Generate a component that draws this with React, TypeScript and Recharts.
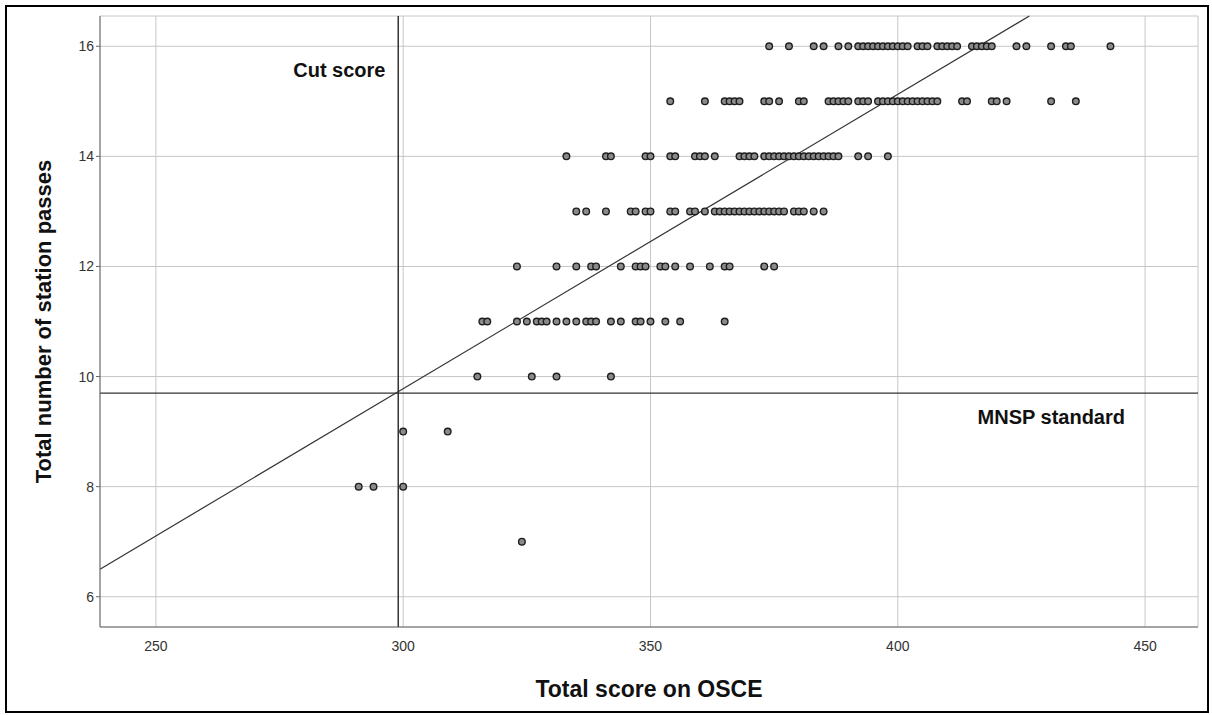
import { ScatterChart, Scatter, XAxis, YAxis, CartesianGrid, ReferenceLine } from 'recharts'

// OSCE total score of each candidate, grouped by number of stations passed
const passes16 = [374, 378, 383, 385, 388, 390, 392, 393, 394, 395, 396, 397, 398, 399, 400, 401, 402, 404, 405, 406, 408, 409, 410, 411, 412, 415, 416, 417, 418, 419, 424, 426, 431, 434, 435, 443]
const passes15 = [354, 361, 365, 366, 367, 368, 373, 374, 376, 380, 381, 386, 387, 388, 389, 390, 392, 393, 394, 396, 397, 398, 399, 400, 401, 402, 403, 404, 405, 406, 407, 408, 413, 414, 419, 420, 422, 431, 436]
const passes14 = [333, 341, 342, 349, 350, 354, 355, 359, 360, 361, 363, 368, 369, 370, 371, 373, 374, 375, 376, 377, 378, 379, 380, 381, 382, 383, 384, 385, 386, 387, 388, 392, 394, 398]
const passes13 = [335, 337, 341, 346, 347, 349, 350, 354, 355, 358, 359, 361, 363, 364, 365, 366, 367, 368, 369, 370, 371, 372, 373, 374, 375, 376, 377, 379, 380, 381, 383, 385]
const passes12 = [323, 331, 335, 338, 339, 344, 347, 348, 349, 352, 353, 355, 358, 362, 365, 366, 373, 375]
const passes11 = [316, 317, 323, 325, 327, 328, 329, 331, 333, 335, 337, 338, 339, 342, 344, 347, 348, 350, 353, 356, 365]
const passes10 = [315, 326, 331, 342]
const passes9 = [300, 309]
const passes8 = [291, 294, 300]
const passes7 = [324]

const rows: [number, number[]][] = [
  [16, passes16], [15, passes15], [14, passes14], [13, passes13], [12, passes12],
  [11, passes11], [10, passes10], [9, passes9], [8, passes8], [7, passes7],
]

const xTicks = [250, 300, 350, 400, 450]
const yTicks = [6, 8, 10, 12, 14, 16]
const xDomain = [238.7, 460.7]
const yDomain = [5.45, 16.55]

const CUT_SCORE = 299
const MNSP_STANDARD = 9.7
// fit line endpoints (score, passes)
const fitLine = [{ x: 238.7, y: 6.5 }, { x: 426.6, y: 16.55 }]

const points = rows.flatMap(([passes, scores]) => scores.map((score) => ({ score, passes })))

const FONT = '"Liberation Sans", Arial, sans-serif'

const Dot = (props: any) => {
  const { cx, cy } = props
  if (cx == null || cy == null) return null
  return <circle cx={cx} cy={cy} r={3.3} fill="#8a8a8a" stroke="#1e1e1e" strokeWidth={1.4} />
}

export default function App() {
  return (
    <div style={{ position: 'absolute', left: 0, top: 0, width: 1212, height: 715, background: '#fff', fontFamily: FONT }}>
      <div style={{ position: 'absolute', left: 5, top: 5, width: 1200, height: 704, border: '2px solid #000' }} />
      <ScatterChart width={1212} height={715} margin={{ top: 16, right: 14, bottom: 58, left: 40 }}>
        <CartesianGrid stroke="#c6c6c6" strokeWidth={1} />
        <XAxis
          type="number" dataKey="score" domain={xDomain} ticks={xTicks} allowDataOverflow
          stroke="#666" tickLine={false}
          tick={{ fill: '#333', fontSize: 14, fontFamily: FONT }} tickMargin={8}
          label={{ value: 'Total score on OSCE', position: 'insideBottom', offset: -40, fill: '#111', fontSize: 23, fontWeight: 'bold', fontFamily: FONT }}
        />
        <YAxis
          type="number" dataKey="passes" domain={yDomain} ticks={yTicks} allowDataOverflow
          width={60} stroke="#666" tickSize={4}
          tick={{ fill: '#333', fontSize: 14, fontFamily: FONT }}
          label={{ value: 'Total number of station passes', angle: -90, position: 'insideLeft', offset: 3, fill: '#111', fontSize: 22, fontWeight: 'bold', fontFamily: FONT, style: { textAnchor: 'middle' } }}
        />
        <ReferenceLine x={CUT_SCORE} stroke="#333" strokeWidth={1.5} ifOverflow="visible"
          label={{ value: 'Cut score', position: 'insideTopLeft', dx: -110, dy: 42, fill: '#111', fontSize: 20, fontWeight: 'bold', fontFamily: FONT }} />
        <ReferenceLine y={MNSP_STANDARD} stroke="#333" strokeWidth={1.2} ifOverflow="visible"
          label={{ value: 'MNSP standard', position: 'insideBottomRight', dx: -68, dy: 36, fill: '#111', fontSize: 20, fontWeight: 'bold', fontFamily: FONT }} />
        <ReferenceLine segment={fitLine} stroke="#333" strokeWidth={1.2} ifOverflow="visible" />
        <Scatter data={points} shape={<Dot />} isAnimationActive={false} />
      </ScatterChart>
    </div>
  )
}
